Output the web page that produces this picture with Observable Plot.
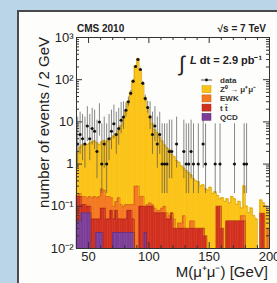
<!DOCTYPE html>
<html><head><meta charset="utf-8">
<script src="https://cdn.jsdelivr.net/npm/d3@7"></script>
<script src="https://cdn.jsdelivr.net/npm/@observablehq/plot@0.6"></script>
<style>
html,body{margin:0;padding:0;background:#bad5e7;width:277px;height:283px;overflow:hidden;font-family:"Liberation Sans",Arial,sans-serif;}
#panel{position:absolute;left:17px;top:10px;width:260px;height:273px;background:#fdfdfb;border-left:2px solid #4a4a4a;border-top:2px solid #4a4a4a;}
#chart{position:absolute;left:0;top:0;}
</style></head>
<body>
<div id="panel"><div id="chart"></div></div>
<script>
// bin low edges (2 GeV bins)
const binLow = [40,42,44,46,48,50,52,54,56,58,60,62,64,66,68,70,72,74,76,78,80,82,84,86,88,90,92,94,96,98,
 100,102,104,106,108,110,112,114,116,118,120,122,124,126,128,130,132,134,136,138,140,142,144,146,148,150,152,154,156,158,
 160,162,164,166,168,170,172,174,176,178,180,182,184,186,188,190,192,194,196,198];
// MC components (events / 2 GeV)
const zmm = [1.72,2.30,2.63,2.83,2.74,2.93,3.14,3.33,3.04,2.73,3.04,3.36,3.23,3.73,4.04,4.50,5.07,6.14,7.89,11.9,
 17.9,29.9,49.9,94.9,209.7,317.7,169.8,79.8,37.9,21.9,13.9,8.89,6.41,5.42,4.22,3.41,2.70,2.33,2.14,1.63,
 1.45,1.17,1.06,0.86,0.74,0.67,0.59,0.505,0.405,0.37,0.35,0.27,0.29,0.24,0.24,0.28,0.20,0.22,0.08,0.05,
 0.13,0.13,0.105,0.075,0.125,0.105,0.065,0.085,0.03,0.24,0.10,0.07,0.09,0.06,0.05,0,0.072,0.052,0.10,0.05];
const ewk = [0.01,0.03,0.06,0.06,0.06,0.07,0.11,0.12,0.11,0.12,0.17,0.15,0.12,0.12,0.08,0.05,0.05,0.11,0.06,0.05,
 0.06,0.03,0.03,0.06,0.30,0.30,0.07,0.07,0,0.01,0.02,0.01,0.02,0.01,0.01,0.02,0.03,0.02,0.01,0,
 0.02,0,0.01,0.01,0.03,0,0,0.015,0.015,0,0,0,0,0,0,0,0,0,0,0,
 0,0,0,0,0,0,0,0,0.015,0.015,0,0,0,0,0,0,0,0,0,0.03];
const ttbar = [0.125,0.125,0.04,0.04,0.03,0.03,0.05,0.05,0.026,0.026,0.066,0.09,0.05,0.05,0.08,0.026,0.056,0.026,0.026,0.026,
 0.026,0.056,0.056,0.026,0,0,0.10,0.10,0.076,0.10,0.10,0.10,0.07,0.07,0.07,0.07,0.07,0.05,0.05,0.07,
 0.03,0.03,0.03,0.03,0.03,0.03,0.03,0.03,0.03,0.03,0.03,0.03,0.03,0.02,0,0,0,0,0.10,0.10,
 0.03,0,0.045,0.045,0.045,0.045,0.045,0.045,0.045,0.045,0,0,0,0,0,0,0.068,0.068,0,0];
const qcd = [0.045,0.045,0.07,0.07,0.07,0.07,0,0,0.024,0.024,0.024,0,0,0,0,0.024,0.024,0.024,0.024,0.024,
 0.024,0.024,0.024,0.024,0,0,0,0,0.024,0,0,0,0,0,0,0,0,0,0,0,
 0,0,0,0,0,0,0,0,0,0,0,0,0,0,0,0,0,0,0,0,
 0,0,0,0,0,0,0,0,0,0,0,0,0,0,0,0,0,0,0,0];
// observed events per bin
const dataCounts = [3,5,4,3,8,4,7,6,2,10,1,3,1,4,6,9,5,7,11,13,
 19,30,48,92,205,300,175,82,36,22,13,5,8,3,5,1,1,1,2,2,
 0,3,0,0,2,1,1,2,1,0,1,0,3,1,0,0,0,1,0,1,
 0,0,0,0,0,1,0,0,0,1,1,0,0,0,0,0,0,0,0,0];
// error-bar extents read per count [low, high]
const errBars = {1:[0.2,9],2:[0.45,11],3:[0.8,13],4:[1.2,15],5:[1.7,17],6:[2.2,19],7:[2.8,21],8:[3.4,23],
 9:[4,25],10:[4.6,27],11:[5.2,29],13:[6.6,30],19:[13,28],22:[16,31],30:[23,39],36:[30,43],
 48:[41,56],82:[73,91],92:[82,102],175:[162,188],205:[191,219],300:[283,317]};

const xTicks = [50,100,150,200];
const xMinor = [40,60,70,80,90,110,120,130,140,160,170,180,190];
const yTicks = [0.01,0.1,1,10,100,1000];
const yTickLabels = ["10\u207B\u00B2","10\u207B\u00B9","1","10","10\u00B2","10\u00B3"];
const yMinor = [0.02,0.03,0.04,0.05,0.06,0.07,0.08,0.09,0.2,0.3,0.4,0.5,0.6,0.7,0.8,0.9,2,3,4,5,6,7,8,9,20,30,40,50,60,70,80,90,200,300,400,500,600,700,800,900];
const layerNames = ["qcd","ttbar","ewk","zmm"];
const layerFill = {qcd:"#7c3e98", ttbar:"#d2301f", ewk:"#f47920", zmm:"#fcc317"};
const layerLine = {qcd:"#5a2a72", ttbar:"#9c2015", ewk:"#c65a12", zmm:"#c99a10"};
const legendLabels = [["data","data"],["zmm","Z\u2070 \u2192 \u03BC\u207A\u03BC\u207B"],["ewk","EWK"],["ttbar","t t\u0304"],["qcd","QCD"]];

const series = {qcd, ttbar, ewk, zmm};
const BW = 2, FLOOR = 0.01;
const rects = [];
const tops = {qcd:[], ttbar:[], ewk:[], zmm:[]};
binLow.forEach((x, i) => {
  let cum = 0;
  for (const k of layerNames) {
    const v = series[k][i];
    const y1 = Math.max(cum, FLOOR);
    cum += v;
    if (v > 0 && cum > FLOOR) rects.push({x1: x, x2: x + BW, y1, y2: cum, layer: k});
    tops[k].push({x, y: Math.max(cum, FLOOR)});
  }
});
for (const k of layerNames) tops[k].push({x: 200, y: tops[k][tops[k].length - 1].y});

const pts = binLow.map((x, i) => ({x: x + BW / 2, x1: x, x2: x + BW, n: dataCounts[i],
  lo: dataCounts[i] ? errBars[dataCounts[i]][0] : 0, hi: dataCounts[i] ? errBars[dataCounts[i]][1] : 0}))
  .filter(d => d.n > 0);

const W = 258, H = 271, mL = 57, mR = 8, mT = 25, mB = 35;
const fw = W - mL - mR, fh = H - mT - mB;
const labelOf = new Map(yTicks.map((v, i) => [v, yTickLabels[i]]));

const marks = [
  Plot.rect(rects, {x1: "x1", x2: "x2", y1: "y1", y2: "y2", fill: d => layerFill[d.layer], stroke: d => layerFill[d.layer], strokeWidth: 0.5}),
  ...layerNames.map(k => Plot.line(tops[k], {x: "x", y: "y", curve: "step-after", stroke: layerLine[k], strokeWidth: 0.6})),
  Plot.ruleX(pts, {x: "x", y1: "lo", y2: "hi", stroke: "#555", strokeWidth: 0.7}),
  Plot.ruleY(pts, {y: "n", x1: "x1", x2: "x2", stroke: "#222", strokeWidth: 0.8}),
  Plot.dot(pts, {x: "x", y: "n", r: 1.5, fill: "#111", stroke: "none"}),
  // inward ticks on all sides
  Plot.tickX(xTicks, {x: d => d, insetTop: fh - 6, stroke: "#333"}),
  Plot.tickX(xTicks, {x: d => d, insetBottom: fh - 6, stroke: "#333"}),
  Plot.tickX(xMinor, {x: d => d, insetTop: fh - 3, stroke: "#333"}),
  Plot.tickX(xMinor, {x: d => d, insetBottom: fh - 3, stroke: "#333"}),
  Plot.tickY(yTicks, {y: d => d, insetRight: fw - 6, stroke: "#333"}),
  Plot.tickY(yTicks, {y: d => d, insetLeft: fw - 6, stroke: "#333"}),
  Plot.tickY(yMinor, {y: d => d, insetRight: fw - 3, stroke: "#333"}),
  Plot.tickY(yMinor, {y: d => d, insetLeft: fw - 3, stroke: "#333"}),
  Plot.axisX({ticks: xTicks, tickSize: 0, tickPadding: 3, label: null, fontSize: 13, fill: "#222"}),
  Plot.axisY({ticks: yTicks, tickSize: 0, tickPadding: 3, label: null, fontSize: 13, fill: "#222", tickFormat: d => labelOf.get(d)}),
  Plot.frame({stroke: "#333", strokeWidth: 1})
];

const svg = Plot.plot({
  width: W, height: H, marginLeft: mL, marginRight: mR, marginTop: mT, marginBottom: mB,
  style: {background: "transparent", fontFamily: "'Liberation Sans', Arial, sans-serif", color: "#222"},
  x: {domain: [40, 200]},
  y: {type: "log", domain: [0.01, 1000]},
  marks
});
document.getElementById("chart").appendChild(svg);

// annotations, legend and axis titles
const s = d3.select(svg);
const g = s.append("g").attr("font-family", "'Liberation Sans', Arial, sans-serif").attr("fill", "#222").attr("text-anchor", "start");
g.append("text").attr("x", 58).attr("y", 20).attr("font-size", 10).attr("font-weight", "bold").text("CMS 2010");
g.append("text").attr("x", 247).attr("y", 20).attr("font-size", 10).attr("font-weight", "bold").attr("text-anchor", "end").text("\u221As = 7 TeV");
g.append("text").attr("x", 160).attr("y", 59).attr("font-size", 21).text("\u222B");
const lum = g.append("text").attr("x", 171).attr("y", 52).attr("font-size", 11).attr("font-weight", "bold");
lum.append("tspan").attr("font-style", "italic").text("L");
lum.append("tspan").text(" dt = 2.9 pb\u207B\u00B9");
legendLabels.forEach(([k, lab], i) => {
  const cy = 68 + i * 9.2;
  if (k === "data") {
    g.append("line").attr("x1", 182).attr("x2", 193).attr("y1", cy).attr("y2", cy).attr("stroke", "#222").attr("stroke-width", 0.8);
    g.append("circle").attr("cx", 187.5).attr("cy", cy).attr("r", 1.4).attr("fill", "#111");
  } else {
    g.append("rect").attr("x", 183).attr("y", cy - 3.5).attr("width", 9).attr("height", 7).attr("fill", layerFill[k]).attr("stroke", layerLine[k]).attr("stroke-width", 0.5);
  }
  g.append("text").attr("x", 201).attr("y", cy + 3).attr("font-size", 8).attr("font-weight", "bold").attr("fill", "#333").text(lab);
});
g.append("text").attr("x", 249).attr("y", 265).attr("font-size", 15).attr("text-anchor", "end").text("M(\u03BC\u207A\u03BC\u207B) [GeV]");
g.append("text").attr("transform", "translate(30,25) rotate(-90)").attr("font-size", 15).attr("text-anchor", "end").text("number of events / 2 GeV");
</script>
</body></html>
